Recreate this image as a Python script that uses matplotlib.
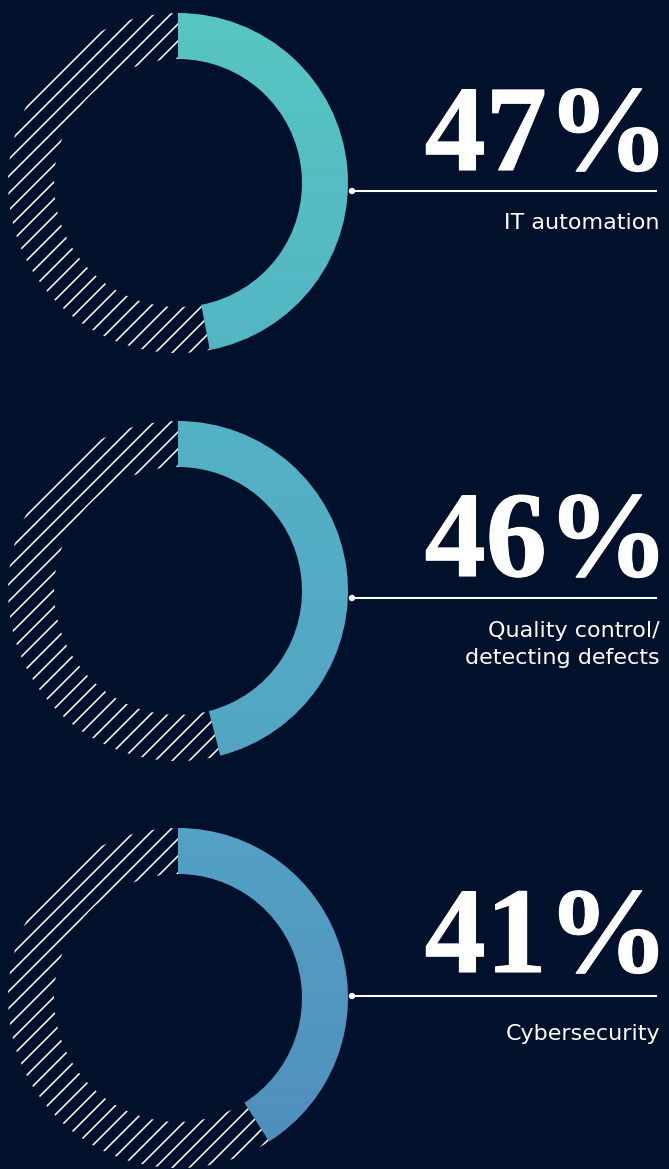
import numpy as np
import matplotlib
matplotlib.use("Agg")
import matplotlib.pyplot as plt
import matplotlib.patheffects as pe
from matplotlib.patches import Wedge, Circle
from matplotlib.collections import LineCollection
from matplotlib.colors import LinearSegmentedColormap

# Share of respondents per use case
shares = [47, 46, 41]
share_labels = ["47%", "46%", "41%"]
categories = ["IT automation", "Quality control/\ndetecting defects", "Cybersecurity"]

W, H = 669, 1169
BG = "#01102b"

fig = plt.figure(figsize=(W / 100, H / 100), dpi=100, facecolor=BG)
ax = fig.add_axes([0, 0, 1, 1])
ax.set_facecolor(BG)
ax.set_xlim(0, W)
ax.set_ylim(H, 0)
ax.axis("off")

# vertical teal -> blue gradient shared by all arcs
cmap = LinearSegmentedColormap.from_list(
    "arc", [(0.0, "#57c6c1"), (0.38, "#53b1c6"), (0.72, "#54a1c4"), (1.0, "#508dbd")])
grad = np.linspace(0, 1, 512).reshape(-1, 1)

cx = 178
centers_y = [183, 591, 998]
r_out, r_in = 170, 124
line_y = [191, 598, 996]
num_base = [170, 576, 972]
lab_base = [229, 637, 1040]

for i, p in enumerate(shares):
    cy = centers_y[i]
    sweep = 360 * p / 100.0
    # filled arc, clockwise from 12 o'clock (y axis points down)
    arc = Wedge((cx, cy), r_out, -90, -90 + sweep, width=r_out - r_in,
                transform=ax.transData, facecolor="none", edgecolor="none")
    ax.add_patch(arc)
    im = ax.imshow(grad, cmap=cmap, extent=[0, W, H, 0], origin="upper",
                   aspect="auto", interpolation="bilinear", zorder=2)
    im.set_clip_path(arc)

    # remainder of the ring drawn as white diagonal hatching
    rest = Wedge((cx, cy), r_out, -90 + sweep, 270, width=r_out - r_in,
                 transform=ax.transData, facecolor="none", edgecolor="none")
    ax.add_patch(rest)
    spacing = 17
    segs = []
    for c in np.arange(cx + cy - 2 * r_out - 40, cx + cy + 2 * r_out + 40, spacing):
        x0, x1 = cx - r_out - 5, cx + r_out + 5
        segs.append([(x0, c - x0), (x1, c - x1)])
    lc = LineCollection(segs, colors="white", linewidths=1.15, zorder=2)
    ax.add_collection(lc)
    lc.set_clip_path(rest)

    # leader line with dot
    ly = line_y[i]
    ax.plot([352, 657], [ly, ly], color="white", lw=1.5, zorder=3,
            solid_capstyle="butt")
    ax.add_patch(Circle((352, ly), 3.2, facecolor="white", edgecolor="none", zorder=4))

    ax.text(669, num_base[i], share_labels[i], ha="right", va="baseline",
            color="white", fontfamily="Liberation Serif", fontweight="bold",
            fontsize=88, zorder=5,
            path_effects=[pe.withStroke(linewidth=0.8, foreground="white")])
    lines = categories[i].split("\n")
    for k, t in enumerate(lines):
        ax.text(660, lab_base[i] + 27 * k, t, ha="right", va="baseline",
                color="white", fontfamily="DejaVu Sans", fontsize=16, zorder=5)

fig.savefig("out.png", dpi=100, facecolor=BG)
